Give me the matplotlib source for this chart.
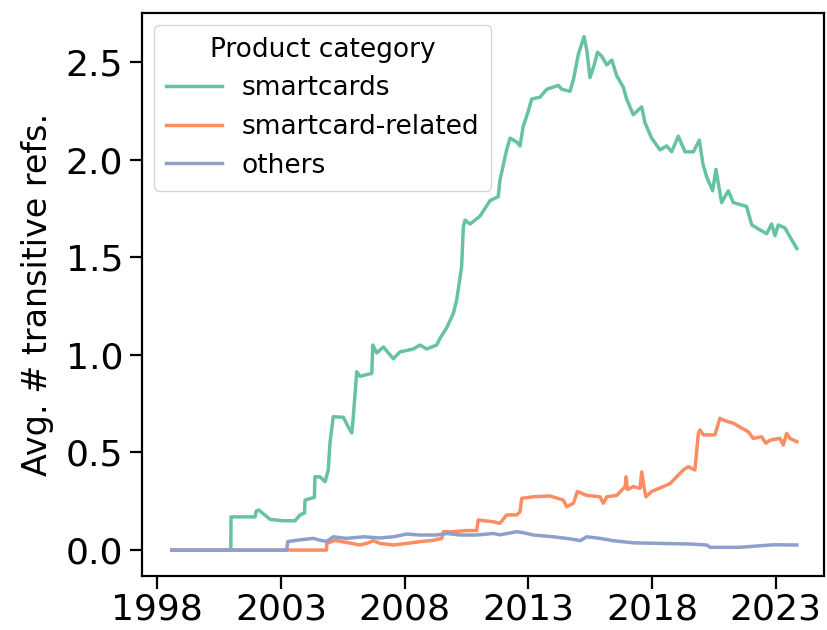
import matplotlib
matplotlib.use("Agg")
import matplotlib.pyplot as plt

# Average number of transitive references per product category over time
smart_years = [1998.59, 2000.97, 2000.98, 2001.95, 2002.00, 2002.10, 2002.56, 2003.08, 2003.57,
               2003.77, 2003.95, 2003.97, 2004.24, 2004.35, 2004.37, 2004.58, 2004.78, 2004.91,
               2004.98, 2005.11, 2005.52, 2005.72, 2005.86, 2005.92, 2006.06, 2006.19, 2006.67,
               2006.71, 2006.87, 2007.14, 2007.54, 2007.81, 2008.35, 2008.62, 2008.89, 2009.29,
               2009.43, 2009.70, 2009.96, 2010.10, 2010.30, 2010.37, 2010.44, 2010.64, 2011.04,
               2011.45, 2011.78, 2011.85, 2012.12, 2012.26, 2012.53, 2012.66, 2012.79, 2013.00,
               2013.13, 2013.47, 2013.74, 2014.21, 2014.35, 2014.68, 2014.82, 2015.02, 2015.25,
               2015.36, 2015.49, 2015.65, 2015.79, 2015.96, 2016.17, 2016.37, 2016.57, 2016.84,
               2016.97, 2017.24, 2017.58, 2017.71, 2017.98, 2018.32, 2018.59, 2018.79, 2019.06,
               2019.33, 2019.67, 2019.91, 2020.05, 2020.21, 2020.45, 2020.58, 2020.81, 2021.08,
               2021.28, 2021.82, 2022.03, 2022.63, 2022.83, 2022.97, 2023.10, 2023.37, 2023.57,
               2023.85]
smart_vals = [0.0, 0.0, 0.17, 0.17, 0.20, 0.205, 0.157, 0.15, 0.15,
              0.18, 0.19, 0.256, 0.266, 0.27, 0.375, 0.375, 0.35, 0.41,
              0.55, 0.683, 0.68, 0.63, 0.60, 0.68, 0.913, 0.89, 0.905,
              1.05, 1.01, 1.04, 0.98, 1.015, 1.03, 1.05, 1.03, 1.05,
              1.085, 1.14, 1.21, 1.28, 1.45, 1.656, 1.69, 1.67, 1.71,
              1.79, 1.81, 1.895, 2.05, 2.11, 2.09, 2.07, 2.17, 2.25,
              2.31, 2.32, 2.36, 2.38, 2.36, 2.35, 2.41, 2.54, 2.63,
              2.56, 2.42, 2.48, 2.55, 2.53, 2.485, 2.51, 2.43, 2.37,
              2.31, 2.23, 2.27, 2.19, 2.11, 2.05, 2.07, 2.04, 2.12,
              2.04, 2.04, 2.10, 1.98, 1.91, 1.84, 1.95, 1.78, 1.84,
              1.78, 1.76, 1.665, 1.62, 1.67, 1.61, 1.665, 1.65, 1.605,
              1.545]

related_years = [1998.59, 2004.84, 2004.85, 2005.18, 2005.60, 2006.19, 2006.46, 2006.73, 2007.00,
                 2007.54, 2008.08, 2008.62, 2009.16, 2009.50, 2009.56, 2009.96, 2010.51, 2010.91,
                 2010.97, 2011.58, 2011.85, 2012.12, 2012.53, 2012.66, 2012.73, 2013.20, 2013.87,
                 2014.41, 2014.55, 2014.82, 2014.98, 2015.36, 2015.89, 2016.03, 2016.17, 2016.57,
                 2016.91, 2016.95, 2017.00, 2017.24, 2017.51, 2017.58, 2017.67, 2017.75, 2017.98,
                 2018.45, 2018.72, 2018.99, 2019.26, 2019.46, 2019.73, 2019.87, 2019.94, 2020.07,
                 2020.54, 2020.74, 2020.88, 2021.08, 2021.28, 2021.55, 2021.89, 2022.09, 2022.43,
                 2022.60, 2022.77, 2023.17, 2023.30, 2023.44, 2023.57, 2023.85]
related_vals = [0.0, 0.0, 0.034, 0.05, 0.04, 0.026, 0.034, 0.048, 0.034,
                0.026, 0.034, 0.043, 0.05, 0.06, 0.094, 0.094, 0.10, 0.10,
                0.154, 0.145, 0.137, 0.18, 0.18, 0.196, 0.265, 0.273, 0.277,
                0.256, 0.222, 0.24, 0.30, 0.28, 0.273, 0.24, 0.273, 0.28,
                0.325, 0.375, 0.31, 0.325, 0.316, 0.40, 0.325, 0.273, 0.30,
                0.325, 0.34, 0.375, 0.41, 0.427, 0.41, 0.598, 0.615, 0.59,
                0.59, 0.675, 0.666, 0.657, 0.65, 0.63, 0.606, 0.572, 0.58,
                0.547, 0.563, 0.572, 0.538, 0.598, 0.572, 0.555]

others_years = [1998.59, 2003.23, 2003.27, 2003.63, 2004.30, 2004.58, 2004.85, 2005.11, 2005.65,
                2006.33, 2007.00, 2007.54, 2008.08, 2008.62, 2009.29, 2009.70, 2010.24, 2010.91,
                2011.58, 2011.85, 2012.53, 2012.79, 2013.20, 2014.01, 2014.82, 2015.09, 2015.36,
                2015.89, 2016.43, 2017.24, 2018.32, 2019.53, 2020.21, 2020.34, 2021.55, 2022.36,
                2022.90, 2023.85]
others_vals = [0.0, 0.0, 0.043, 0.05, 0.06, 0.05, 0.045, 0.068, 0.06,
               0.068, 0.062, 0.068, 0.082, 0.077, 0.077, 0.085, 0.077, 0.077,
               0.085, 0.078, 0.094, 0.089, 0.077, 0.068, 0.055, 0.048, 0.068,
               0.06, 0.048, 0.037, 0.034, 0.031, 0.026, 0.014, 0.014, 0.022,
               0.027, 0.026]

labels = ["smartcards", "smartcard-related", "others"]
colors = ["#66c2a5", "#fc8d62", "#8da0cb"]
year_ticks = [1998, 2003, 2008, 2013, 2018, 2023]

fig = plt.figure(figsize=(8.27, 6.30), dpi=100)
ax = fig.add_axes([0.1723, 0.0863, 0.8241, 0.8931])

series = [(smart_years, smart_vals), (related_years, related_vals), (others_years, others_vals)]
for (xs, ys), lab, col in zip(series, labels, colors):
    ax.plot(xs, ys, color=col, lw=2.5, label=lab)

ax.set_xlim(1997.40, 2024.95)
ax.set_ylim(-0.131, 2.751)
ax.set_xticks(year_ticks)
ax.set_xticklabels([str(y) for y in year_ticks])
ax.set_yticks([0.0, 0.5, 1.0, 1.5, 2.0, 2.5])
ax.set_yticklabels(["0.0", "0.5", "1.0", "1.5", "2.0", "2.5"])
ax.tick_params(labelsize=26, length=9, width=1.6, pad=5)
ax.tick_params(axis="x", pad=3)
for sp in ax.spines.values():
    sp.set_linewidth(1.6)
ax.set_ylabel("Avg. # transitive refs.", fontsize=24, labelpad=8)

leg = ax.legend(title="Product category", loc="upper left", fontsize=19,
                title_fontsize=19, frameon=True, handlelength=2.1,
                borderpad=0.45, labelspacing=0.48, handletextpad=0.75,
                borderaxespad=0.45)
leg.get_frame().set_linewidth(1.0)
leg.get_frame().set_edgecolor("#cccccc")

fig.savefig("out.png", dpi=100)
